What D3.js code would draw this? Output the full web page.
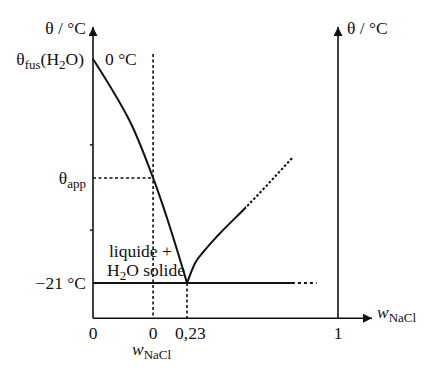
<!DOCTYPE html>
<html>
<head>
<meta charset="utf-8">
<script src="https://cdn.jsdelivr.net/npm/d3@7"></script>
<style>
  body { margin: 0; background: #fff; }
  text { font-family: "Liberation Serif", "DejaVu Serif", serif; font-size: 17.5px; fill: #111; }
</style>
</head>
<body>
<div class="canvas"></div>
<script>
// liquidus of ice (w, θ)
const iceCurve = [[0, 0], [0.091, -5.9], [0.147, -11.15], [0.23, -21]];
// solubility of NaCl; solid up to saltSolidEnd, dotted beyond
const saltCurve = [[0.23, -21], [0.271, -19.15], [0.322, -17.9], [0.390, -16.5], [0.531, -13.9], [0.765, -9.3]];
const saltSolidEnd = 0.531;
const eutectic = { w: 0.23, t: -21 };
const w0 = 0.147;
const thetaApp = -11.15;
const eutecticEnd = [0.765, 0.891];
const yTicks = [-8, -16];
const xLabels = [
  { w: 0, label: '0' },
  { w: w0, label: '0' },
  { w: 0.23, label: '0,23' },
  { w: 1, label: '1' }
];

const width = 434, height = 373;

// the figure is not drawn to scale, so the w axis is piecewise
const x = d3.scaleLinear().domain([0, 0.23, 1]).range([93, 187, 338]);
const y = d3.scaleLinear().domain([0, -21]).range([59, 283]);
const yMin = -24.3, yMax = 3.0, xArrow = 372;

const svg = d3.select('.canvas')
  .append('svg')
  .attr('width', width)
  .attr('height', height);

const lineY = d3.line()
  .x(d => x(d[0]))
  .y(d => y(d[1]))
  .curve(d3.curveMonotoneY);

const lineX = d3.line()
  .x(d => x(d[0]))
  .y(d => y(d[1]))
  .curve(d3.curveMonotoneX);

const defs = svg.append('defs');
defs.append('marker')
  .attr('id', 'arrow')
  .attr('viewBox', '0 0 10 10')
  .attr('refX', 10).attr('refY', 5)
  .attr('markerWidth', 12).attr('markerHeight', 9)
  .attr('markerUnits', 'userSpaceOnUse')
  .attr('orient', 'auto')
  .append('path')
    .attr('d', 'M0,0 L10,5 L0,10 Z')
    .attr('fill', '#111');

defs.append('clipPath').attr('id', 'solidPart')
  .append('rect')
    .attr('x', 0).attr('y', 0)
    .attr('width', x(saltSolidEnd)).attr('height', height);
defs.append('clipPath').attr('id', 'dottedPart')
  .append('rect')
    .attr('x', x(saltSolidEnd)).attr('y', 0)
    .attr('width', width).attr('height', height);

// axes
const axes = svg.append('g').attr('stroke', '#111').attr('stroke-width', 1.6);
axes.append('line')
  .attr('x1', x(0)).attr('y1', y(yMin))
  .attr('x2', x(0)).attr('y2', y(yMax))
  .attr('marker-end', 'url(#arrow)');
axes.append('line')
  .attr('x1', x(1)).attr('y1', y(yMin))
  .attr('x2', x(1)).attr('y2', y(yMax))
  .attr('marker-end', 'url(#arrow)');
axes.append('line')
  .attr('x1', x(0)).attr('y1', y(yMin))
  .attr('x2', xArrow).attr('y2', y(yMin))
  .attr('marker-end', 'url(#arrow)');

const yAxis = d3.axisLeft(y).tickValues(yTicks).tickSize(3).tickFormat('');
svg.append('g')
  .attr('transform', `translate(${x(0)},0)`)
  .call(yAxis)
  .call(g => g.select('.domain').remove())
  .call(g => g.selectAll('line').attr('stroke', '#111').attr('stroke-width', 1.4));

// curves
svg.append('path')
  .attr('d', lineY(iceCurve))
  .attr('fill', 'none').attr('stroke', '#111').attr('stroke-width', 2);
svg.append('path')
  .attr('d', lineX(saltCurve))
  .attr('clip-path', 'url(#solidPart)')
  .attr('fill', 'none').attr('stroke', '#111').attr('stroke-width', 2);
svg.append('path')
  .attr('d', lineX(saltCurve))
  .attr('clip-path', 'url(#dottedPart)')
  .attr('fill', 'none').attr('stroke', '#111').attr('stroke-width', 2)
  .attr('stroke-dasharray', '2.5,2');

// eutectic line
svg.append('line')
  .attr('x1', x(0)).attr('y1', y(eutectic.t))
  .attr('x2', x(eutecticEnd[0])).attr('y2', y(eutectic.t))
  .attr('stroke', '#111').attr('stroke-width', 2);
svg.append('line')
  .attr('x1', x(eutecticEnd[0])).attr('y1', y(eutectic.t))
  .attr('x2', x(eutecticEnd[1])).attr('y2', y(eutectic.t))
  .attr('stroke', '#111').attr('stroke-width', 2)
  .attr('stroke-dasharray', '3,3');

// dotted guides
const dots = svg.append('g')
  .attr('stroke', '#111').attr('stroke-width', 1.6)
  .attr('stroke-dasharray', '3,2.5');
dots.append('line')
  .attr('x1', x(w0)).attr('y1', y(0.47))
  .attr('x2', x(w0)).attr('y2', y(yMin));
dots.append('line')
  .attr('x1', x(0)).attr('y1', y(thetaApp))
  .attr('x2', x(w0)).attr('y2', y(thetaApp));
dots.append('line')
  .attr('x1', x(eutectic.w)).attr('y1', y(eutectic.t))
  .attr('x2', x(eutectic.w)).attr('y2', y(yMin));

// text
const sub = 13;
const txt = svg.append('g');
txt.append('text').attr('x', 86).attr('y', 34).attr('text-anchor', 'end').text('θ / °C');
txt.append('text').attr('x', 347).attr('y', 34).text('θ / °C');

const fus = txt.append('text').attr('x', 84).attr('y', 65).attr('text-anchor', 'end');
fus.append('tspan').text('θ');
fus.append('tspan').attr('font-size', sub).attr('dy', 4).text('fus');
fus.append('tspan').attr('dy', -4).text('(H');
fus.append('tspan').attr('font-size', sub).attr('dy', 4).text('2');
fus.append('tspan').attr('dy', -4).text('O)');

txt.append('text').attr('x', 105).attr('y', 65).text('0 °C');

const app = txt.append('text').attr('x', 86).attr('y', 184).attr('text-anchor', 'end');
app.append('tspan').text('θ');
app.append('tspan').attr('font-size', sub).attr('dy', 4).text('app');

txt.append('text').attr('x', 86).attr('y', y(eutectic.t) + 6).attr('text-anchor', 'end').text('−21 °C');

txt.append('text').attr('x', 109).attr('y', 257).text('liquide +');
const sol = txt.append('text').attr('x', 107).attr('y', 276);
sol.append('tspan').text('H');
sol.append('tspan').attr('font-size', sub).attr('dy', 4).text('2');
sol.append('tspan').attr('dy', -4).text('O solide');

txt.selectAll('.xl')
  .data(xLabels)
  .join('text')
    .attr('class', 'xl')
    .attr('x', d => x(d.w))
    .attr('y', 339)
    .attr('text-anchor', (d, i) => i === 2 ? 'start' : 'middle')
    .attr('dx', (d, i) => i === 2 ? -12 : 0)
    .text(d => d.label);

const wl = txt.append('text').attr('x', 132).attr('y', 355);
wl.append('tspan').attr('font-style', 'italic').text('w');
wl.append('tspan').attr('font-size', sub).attr('dy', 4).text('NaCl');

const wr = txt.append('text').attr('x', 377).attr('y', 318);
wr.append('tspan').attr('font-style', 'italic').text('w');
wr.append('tspan').attr('font-size', sub).attr('dy', 4).text('NaCl');
</script>
</body>
</html>
